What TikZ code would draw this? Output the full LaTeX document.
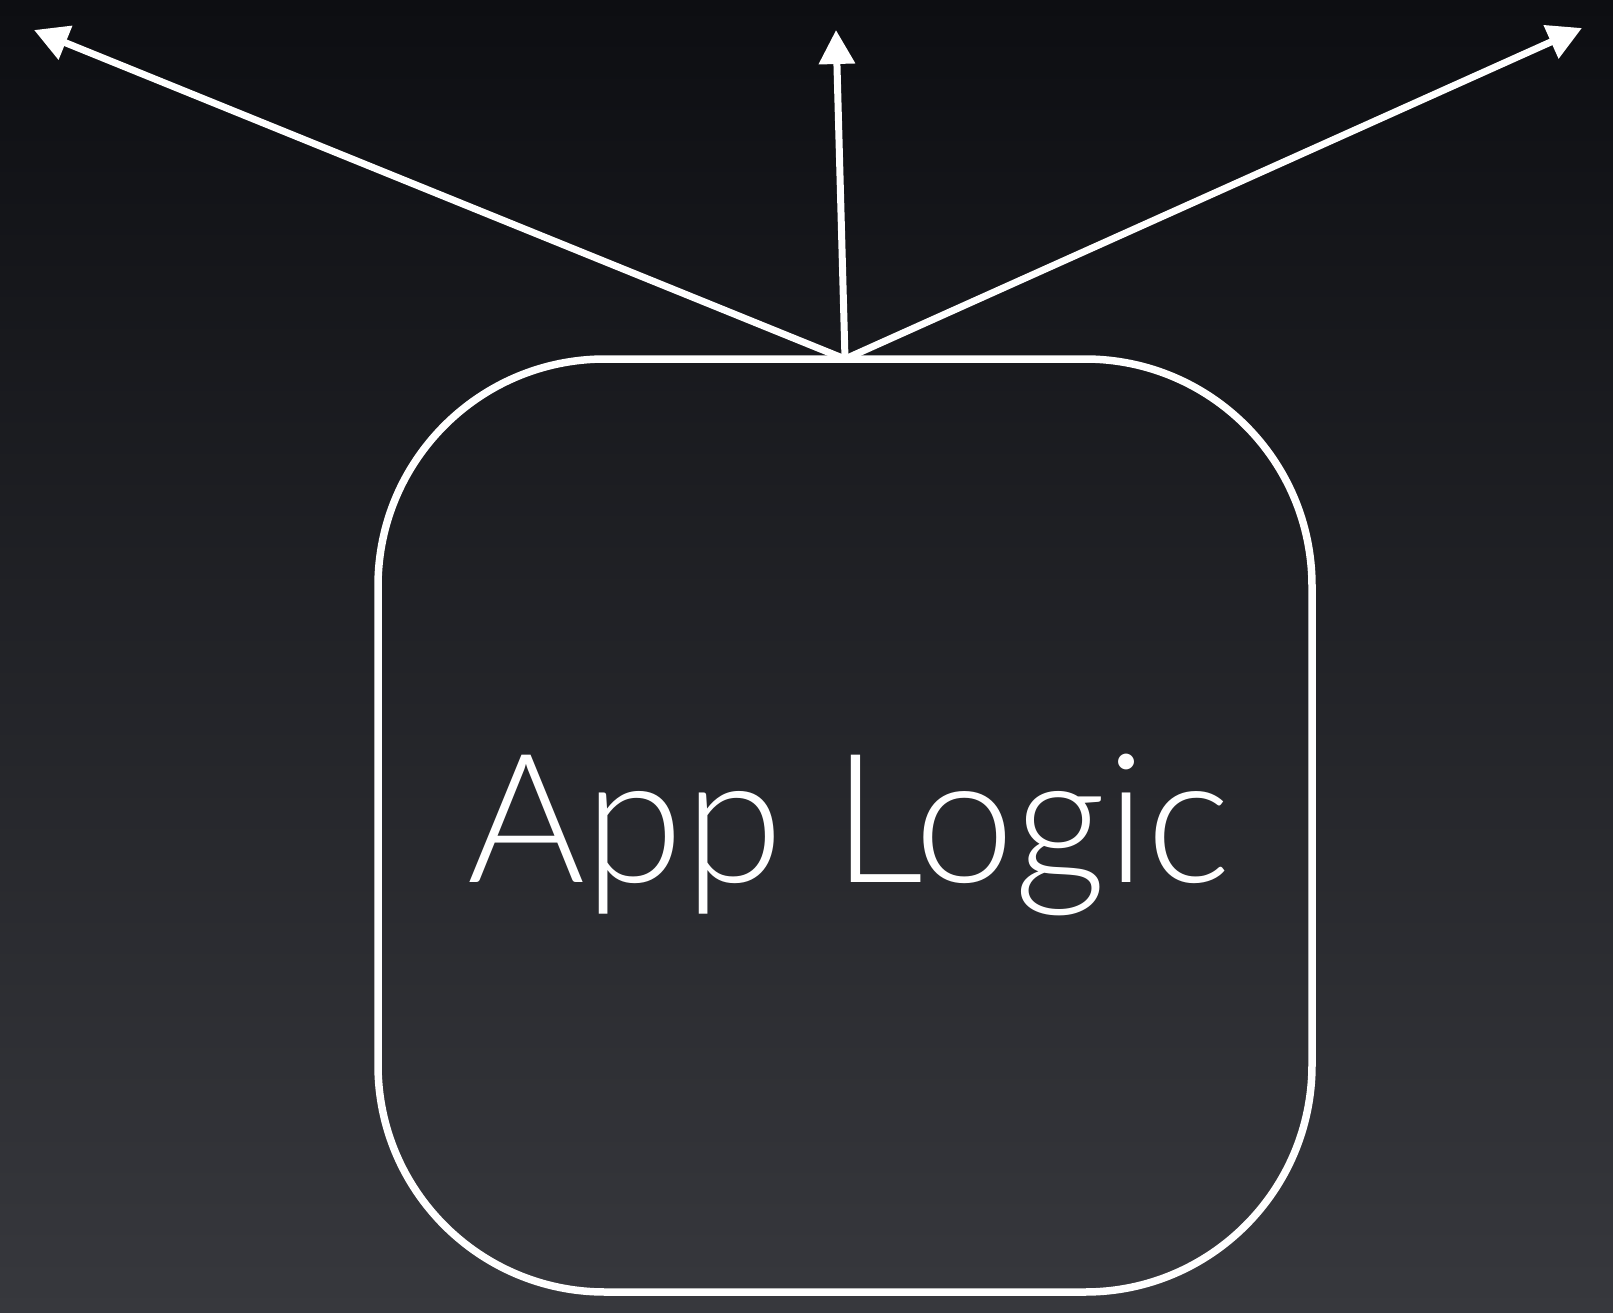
\documentclass[tikz,border=0pt]{standalone}
\usepackage{fontspec}
\newfontfamily\lightfont{Lato Light}
\usetikzlibrary{arrows.meta}
\definecolor{bgtop}{HTML}{0D0E12}
\definecolor{bgbot}{HTML}{37383D}
\tikzset{
  outline/.style={draw=white, line width=7.5pt, rounded corners=227pt, inner sep=0pt, outer sep=0pt},
  pointer/.style={draw=white, line width=7pt, -{Triangle[length=34pt, width=35pt]}},
  label/.style={text=white, inner sep=0pt, font=\lightfont\fontsize{180}{200}\selectfont}
}
\begin{document}
\begin{tikzpicture}[x=1pt, y=-1pt]
  \useasboundingbox (0,0) rectangle (1613,1313);
  \shade[top color=bgtop, bottom color=bgbot] (0,0) rectangle (1613,1313);
  \node[outline, minimum width=934pt, minimum height=933pt] (box) at (845,825.5) {};
  \node[label, anchor=base west] (applogic) at (467,882) {App Logic};
  \coordinate (tipL) at (34,30);
  \coordinate (tipM) at (836,30);
  \coordinate (tipR) at (1582,28);
  \draw[pointer] (box.north) -- (tipL);
  \draw[pointer] (box.north) -- (tipM);
  \draw[pointer] (box.north) -- (tipR);
\end{tikzpicture}
\end{document}
